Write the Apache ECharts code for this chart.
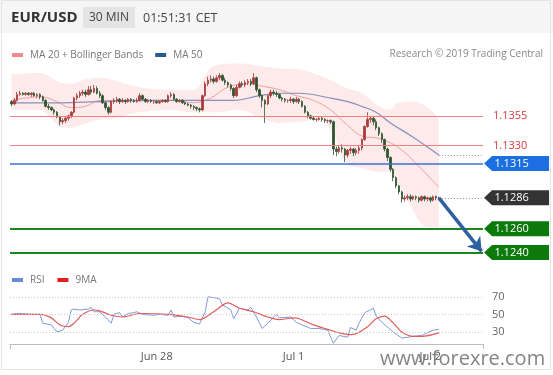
<!DOCTYPE html>
<html><head><meta charset="utf-8">
<script src="https://cdn.jsdelivr.net/npm/echarts@6/dist/echarts.min.js"></script>
<style>html,body{margin:0;padding:0;background:#fff}#c{width:553px;height:375px}</style>
</head><body><div id="c"></div>
<script>
// ---------- DATA ----------
// candles: [open, close, low, high], 30-minute bars from Jun 26 22:30 CET
const ohlc = [
[1.1367,1.1365,1.1363,1.1368],[1.1365,1.1368,1.1364,1.1370],[1.1368,1.1373,1.1367,1.1375],[1.1373,1.1374,1.1372,1.1376],
[1.1374,1.1373,1.1372,1.1375],[1.1373,1.1374,1.1372,1.1375],[1.1374,1.1373,1.1372,1.1375],[1.1373,1.1374,1.1371,1.1375],
[1.1374,1.1372,1.1371,1.1375],[1.1372,1.1373,1.1370,1.1374],[1.1373,1.1371,1.1369,1.1374],[1.1371,1.1368,1.1367,1.1372],
[1.1368,1.1363,1.1362,1.1369],[1.1363,1.1362,1.1360,1.1365],[1.1362,1.1360,1.1359,1.1363],[1.1360,1.1358,1.1356,1.1361],
[1.1358,1.1354,1.1353,1.1359],[1.1354,1.1350,1.1347,1.1355],[1.1350,1.1351,1.1348,1.1353],[1.1351,1.1353,1.1349,1.1354],
[1.1353,1.1355,1.1351,1.1356],[1.1355,1.1358,1.1353,1.1359],[1.1358,1.1370,1.1357,1.1371],[1.1370,1.1372,1.1368,1.1374],
[1.1372,1.1374,1.1370,1.1376],[1.1374,1.1375,1.1372,1.1377],[1.1375,1.1373,1.1371,1.1377],[1.1373,1.1377,1.1372,1.1380],
[1.1377,1.1375,1.1373,1.1380],[1.1375,1.1378,1.1374,1.1381],[1.1378,1.1374,1.1373,1.1380],[1.1374,1.1372,1.1370,1.1376],
[1.1372,1.1366,1.1365,1.1373],[1.1366,1.1362,1.1360,1.1367],[1.1362,1.1358,1.1356,1.1363],[1.1358,1.1367,1.1357,1.1368],
[1.1367,1.1368,1.1365,1.1370],[1.1368,1.1369,1.1366,1.1371],[1.1369,1.1367,1.1365,1.1370],[1.1367,1.1368,1.1366,1.1370],
[1.1368,1.1367,1.1365,1.1369],[1.1367,1.1369,1.1366,1.1370],[1.1369,1.1368,1.1366,1.1370],[1.1368,1.1367,1.1366,1.1369],
[1.1367,1.1368,1.1366,1.1370],[1.1368,1.1372,1.1367,1.1374],[1.1372,1.1369,1.1368,1.1373],[1.1369,1.1367,1.1366,1.1370],
[1.1367,1.1368,1.1366,1.1369],[1.1368,1.1367,1.1366,1.1369],[1.1367,1.1367,1.1365,1.1368],[1.1367,1.1366,1.1365,1.1368],
[1.1366,1.1367,1.1365,1.1368],[1.1367,1.1368,1.1366,1.1369],[1.1368,1.1367,1.1366,1.1369],[1.1367,1.1372,1.1366,1.1373],
[1.1372,1.1373,1.1370,1.1375],[1.1373,1.1369,1.1368,1.1374],[1.1369,1.1367,1.1366,1.1370],[1.1367,1.1368,1.1366,1.1369],
[1.1368,1.1366,1.1365,1.1369],[1.1366,1.1365,1.1364,1.1367],[1.1365,1.1364,1.1363,1.1366],[1.1364,1.1363,1.1361,1.1365],
[1.1363,1.1362,1.1360,1.1364],[1.1362,1.1361,1.1359,1.1363],[1.1361,1.1360,1.1358,1.1362],[1.1360,1.1372,1.1359,1.1373],
[1.1372,1.1382,1.1371,1.1384],[1.1382,1.1385,1.1380,1.1388],[1.1385,1.1386,1.1383,1.1389],[1.1386,1.1384,1.1382,1.1388],
[1.1384,1.1387,1.1383,1.1389],[1.1387,1.1389,1.1385,1.1391],[1.1389,1.1385,1.1384,1.1390],[1.1385,1.1383,1.1381,1.1387],
[1.1383,1.1381,1.1379,1.1384],[1.1381,1.1378,1.1376,1.1382],[1.1378,1.1372,1.1370,1.1379],[1.1372,1.1379,1.1371,1.1381],
[1.1379,1.1382,1.1378,1.1384],[1.1382,1.1381,1.1379,1.1384],[1.1381,1.1383,1.1379,1.1385],[1.1383,1.1384,1.1381,1.1386],
[1.1384,1.1382,1.1380,1.1386],[1.1382,1.1387,1.1381,1.1391],[1.1387,1.1377,1.1375,1.1388],[1.1377,1.1372,1.1370,1.1378],
[1.1372,1.1368,1.1362,1.1373],[1.1368,1.1365,1.1349,1.1369],[1.1365,1.1372,1.1364,1.1373],[1.1372,1.1375,1.1370,1.1377],
[1.1375,1.1374,1.1372,1.1377],[1.1374,1.1373,1.1371,1.1376],[1.1373,1.1370,1.1369,1.1374],[1.1370,1.1369,1.1367,1.1371],
[1.1369,1.1368,1.1366,1.1370],[1.1368,1.1368,1.1366,1.1369],[1.1368,1.1369,1.1366,1.1371],[1.1369,1.1367,1.1365,1.1370],
[1.1367,1.1369,1.1366,1.1371],[1.1369,1.1367,1.1365,1.1370],[1.1367,1.1363,1.1362,1.1368],[1.1363,1.1358,1.1357,1.1364],
[1.1358,1.1355,1.1353,1.1359],[1.1355,1.1353,1.1352,1.1356],[1.1353,1.1352,1.1351,1.1354],[1.1352,1.1352,1.1350,1.1353],
[1.1352,1.1353,1.1351,1.1354],[1.1353,1.1352,1.1350,1.1354],[1.1352,1.1351,1.1349,1.1353],[1.1351,1.1351,1.1349,1.1352],
[1.1351,1.1350,1.1348,1.1352],[1.1350,1.1327,1.1322,1.1351],[1.1327,1.1325,1.1321,1.1329],[1.1325,1.1328,1.1323,1.1330],
[1.1328,1.1327,1.1324,1.1331],[1.1327,1.1322,1.1316,1.1328],[1.1322,1.1326,1.1320,1.1327],[1.1326,1.1327,1.1323,1.1329],
[1.1327,1.1324,1.1321,1.1328],[1.1324,1.1326,1.1322,1.1328],[1.1326,1.1328,1.1323,1.1330],[1.1328,1.1335,1.1326,1.1336],
[1.1335,1.1346,1.1334,1.1347],[1.1346,1.1352,1.1345,1.1358],[1.1352,1.1353,1.1349,1.1355],[1.1353,1.1350,1.1347,1.1355],
[1.1350,1.1345,1.1343,1.1352],[1.1345,1.1340,1.1338,1.1346],[1.1340,1.1335,1.1332,1.1341],[1.1335,1.1327,1.1325,1.1336],
[1.1327,1.1320,1.1317,1.1328],[1.1320,1.1310,1.1308,1.1321],[1.1310,1.1303,1.1300,1.1311],[1.1303,1.1296,1.1294,1.1304],
[1.1296,1.1291,1.1289,1.1297],[1.1291,1.1285,1.1282,1.1292],[1.1285,1.1286,1.1283,1.1288],[1.1286,1.1287,1.1284,1.1289],
[1.1287,1.1285,1.1283,1.1289],[1.1285,1.1287,1.1284,1.1288],[1.1287,1.1286,1.1284,1.1288],[1.1286,1.1284,1.1282,1.1287],
[1.1284,1.1287,1.1283,1.1288],[1.1287,1.1285,1.1283,1.1288],[1.1285,1.1286,1.1283,1.1287],[1.1286,1.1284,1.1282,1.1287],
[1.1284,1.1287,1.1283,1.1288],[1.1287,1.1286,1.1284,1.1288],[1.1286,1.1286,1.1284,1.1287]
];
// moving averages, [bar index, value]
const ma20 = [[0,1.1368],[10,1.1371],[15,1.1368],[21,1.1362],[26,1.1363],[31,1.1368],[36,1.1368],[42,1.1368],[49,1.1368],[57,1.1368],[64,1.1366],[70,1.1370],[75,1.1378],[82,1.1382],[88,1.1380],[94,1.1377],[100,1.1372],[106,1.1368],[112,1.1360],[118,1.1347],[123,1.1338],[129,1.1336],[136,1.1328],[144,1.1310],[150,1.1295]];
const ma50 = [[0,1.1366],[17,1.1366],[31,1.1367],[49,1.1368],[66,1.1368],[78,1.1368],[87,1.1372],[94,1.1374],[101,1.1374],[112,1.1370],[118,1.1367],[123,1.1363],[128,1.1358],[133,1.1349],[141,1.1337],[150,1.1322]];
// Bollinger bands
const bandIdx   = [0,10,14,17,21,25,31,36,45,56,64,68,71,80,87,94,101,108,113,118,123,129,133,135,140,144,147,150];
const bandUpper = [1.1390,1.1391,1.1387,1.1383,1.1382,1.1385,1.1387,1.1385,1.1379,1.1377,1.1377,1.1389,1.1397,1.1399,1.1397,1.1395,1.1394,1.1389,1.1384,1.1378,1.1374,1.1363,1.1360,1.1365,1.1367,1.1365,1.1360,1.1353];
const bandLower = [1.1360,1.1360,1.1353,1.1346,1.1345,1.1348,1.1352,1.1353,1.1358,1.1360,1.1358,1.1358,1.1358,1.1360,1.1354,1.1349,1.1350,1.1352,1.1339,1.1314,1.1311,1.1308,1.1308,1.1301,1.1280,1.1264,1.1261,1.1261];
// RSI panel, [bar index, value]
const rsi = [[0,50],[2,51],[7,50],[10,50],[11,40],[14,38],[15,34],[16,30],[18,32],[20,41],[21,55],[22,56],[24,55],[27,56],[28,58],[29,53],[31,53],[33,47],[35,40],[36,50],[38,52],[39,47],[41,51],[43,52],[44,53],[46,50],[50,49],[52,50],[55,49],[56,55],[57,47],[60,48],[62,46],[64,41],[66,39],[68,53],[69,70],[71,69],[73,68],[74,61],[77,55],[78,45],[80,57],[83,55],[84,58],[86,47],[88,34],[90,40],[93,50],[94,46],[98,47],[100,41],[102,38],[105,34],[108,34],[111,32],[113,17],[115,26],[118,24],[119,35],[121,32],[122,40],[124,52],[126,55],[127,57],[128,48],[130,41],[134,30],[137,23],[139,24],[141,25],[144,26],[148,32],[150,33]];
const rsiMA9 = [[0,50],[10,50],[14,46],[17,38],[20,36],[22,40],[25,50],[29,55],[31,54],[35,49],[39,47],[45,51],[55,50],[62,47],[66,44],[71,53],[76,63],[80,57],[85,53],[90,47],[94,44],[99,46],[101,45],[106,38],[111,33],[115,29],[119,27],[121,28],[125,36],[128,45],[131,48],[134,40],[137,30],[141,25],[144,25],[150,29]];
const rsiLevels = [70, 50, 30];
// price levels
const redLevels = [1.1355, 1.1330];
const blueLevel = 1.1315;
const lastPrice = 1.1286;
const greenLevels = [1.1260, 1.1240];
const ma50Last = 1.1322;
const arrowTarget = 1.1241;
// x-axis tick labels
const tickCats = ['06-28 00:00', '07-01 00:00', '07-02 00:00'];
const tickText = ['Jun 28', 'Jul 1', 'Jul 2'];

// ---------- categories (30-min slots, weekend skipped) ----------
const totalSlots = ohlc.length + 15;
const cats = [];
{
  let t = Date.UTC(2019, 5, 26, 22, 30);
  while (cats.length < totalSlots) {
    const d = new Date(t);
    const wd = d.getUTCDay(), h = d.getUTCHours();
    const closed = wd === 6 || (wd === 5 && h >= 23) || (wd === 0 && h < 23);
    if (!closed) {
      const p = n => String(n).padStart(2, '0');
      cats.push(p(d.getUTCMonth() + 1) + '-' + p(d.getUTCDate()) + ' ' + p(h) + ':' + p(d.getUTCMinutes()));
    }
    t += 30 * 60000;
  }
}
const lastIdx = ohlc.length - 1;
const endIdx = cats.length - 1;

const F = "'Open Sans', 'DejaVu Sans', sans-serif";
const chart = echarts.init(document.getElementById('c'), null, {renderer: 'canvas'});

const boxPath = 'path://M0,8L8,0L65,0L65,16L8,16Z';
function box(val, color) {
  return {
    coord: [endIdx, val], symbol: boxPath, symbolSize: [65, 15], symbolOffset: [35, 0],
    itemStyle: {color: color},
    label: {show: true, position: 'inside', formatter: val.toFixed(4), color: '#fff', fontSize: 11, fontFamily: F, offset: [-5, 0]}
  };
}

const option = {
  animation: false,
  backgroundColor: '#fff',
  grid: [
    {left: 10, right: 70, top: 60, height: 202},
    {left: 10, right: 70, top: 288, height: 56}
  ],
  xAxis: [
    {type: 'category', gridIndex: 0, data: cats, show: false, boundaryGap: true},
    {type: 'category', gridIndex: 1, data: cats, boundaryGap: true,
     axisLine: {lineStyle: {color: '#bdbdbd', width: 1}},
     axisTick: {show: true, interval: (i) => i === 0, length: 5, lineStyle: {color: '#bdbdbd'}},
     axisLabel: {interval: (i, v) => tickCats.indexOf(v) >= 0,
       formatter: (v) => { const k = tickCats.indexOf(v); return k >= 0 ? tickText[k] : ''; },
       color: '#555', fontSize: 11, fontFamily: F, margin: 7}}
  ],
  yAxis: [
    {type: 'value', gridIndex: 0, min: 1.1232, max: 1.1402, show: false, splitLine: {show: false}},
    {type: 'value', gridIndex: 1, min: 16.3, max: 80, show: false, splitLine: {show: false}}
  ],
  legend: [
    {left: 12, top: 50, padding: 0, icon: 'rect', itemWidth: 11, itemHeight: 4, itemGap: 12, selectedMode: false,
     textStyle: {color: '#777', fontSize: 10, fontFamily: F, padding: [0, 0, 0, 2]},
     data: [{name: 'MA 20 + Bollinger Bands', itemStyle: {color: '#f08a8a'}}, {name: 'MA 50', itemStyle: {color: '#2b5797'}}]},
    {left: 12, top: 275, padding: 0, icon: 'rect', itemWidth: 11, itemHeight: 4, itemGap: 13, selectedMode: false,
     textStyle: {color: '#777', fontSize: 10, fontFamily: F, padding: [0, 0, 0, 2]},
     data: [{name: 'RSI', itemStyle: {color: '#6a8ad4'}}, {name: '9MA', itemStyle: {color: '#e02020'}}]}
  ],
  series: [
    {name: 'bandLow', type: 'line', xAxisIndex: 0, yAxisIndex: 0, stack: 'bb', smooth: 0.4, symbol: 'none',
     lineStyle: {opacity: 0}, data: bandIdx.map((x, k) => [x, bandLower[k]]), silent: true, z: 1},
    {name: 'bandFill', type: 'line', xAxisIndex: 0, yAxisIndex: 0, stack: 'bb', smooth: 0.4, symbol: 'none',
     lineStyle: {opacity: 0}, areaStyle: {color: 'rgba(240,120,120,0.22)'},
     data: bandIdx.map((x, k) => [x, bandUpper[k] - bandLower[k]]), silent: true, z: 1},
    {name: 'MA 20 + Bollinger Bands', type: 'line', xAxisIndex: 0, yAxisIndex: 0, smooth: 0.4, symbol: 'none',
     lineStyle: {color: '#f2a0a0', width: 1}, itemStyle: {color: '#f08a8a'}, data: ma20, z: 2},
    {name: 'MA 50', type: 'line', xAxisIndex: 0, yAxisIndex: 0, smooth: 0.4, symbol: 'none',
     lineStyle: {color: '#8790bd', width: 1.2}, itemStyle: {color: '#2b5797'}, data: ma50, z: 3,
     markLine: {silent: true, symbol: 'none', animation: false, precision: 6,
       data: [
         ...redLevels.map(v => ({yAxis: v, lineStyle: {color: '#f08080', width: 1.2, type: 'solid'},
            label: {show: true, position: 'end', distance: 10, formatter: v.toFixed(4), color: '#d8383a', fontSize: 11, fontFamily: F}})),
         {yAxis: blueLevel, lineStyle: {color: '#3d6fd6', width: 1.5, type: 'solid'}, label: {show: false}},
         ...greenLevels.map(v => ({yAxis: v, lineStyle: {color: '#1d861d', width: 2, type: 'solid'}, label: {show: false}}))
       ]}},
    {name: 'price', type: 'candlestick', xAxisIndex: 0, yAxisIndex: 0, barWidth: 2, z: 4,
     itemStyle: {color: '#a83a3a', color0: '#2f5530', borderColor: '#a83a3a', borderColor0: '#2f5530', borderWidth: 0.8},
     data: ohlc},
    {name: 'ext', type: 'line', xAxisIndex: 0, yAxisIndex: 0, data: [], z: 5,
     markLine: {silent: true, symbol: 'none', animation: false, precision: 6, label: {show: false},
       lineStyle: {color: '#888', width: 1, type: [1, 2]},
       data: [
         [{coord: [lastIdx, ma50Last]}, {coord: [endIdx, ma50Last]}],
         [{coord: [lastIdx, lastPrice]}, {coord: [endIdx, lastPrice]}]
       ]},
     markPoint: {silent: true, animation: false,
       data: [box(blueLevel, '#1c6fe0'), box(lastPrice, '#333333'), box(greenLevels[0], '#0b7a0b'), box(greenLevels[1], '#0b7a0b')]}},
    {name: 'arrow', type: 'line', xAxisIndex: 0, yAxisIndex: 0, data: [], z: 6,
     markLine: {silent: true, animation: false, precision: 6, symbol: ['none', 'arrow'], symbolSize: 13, label: {show: false},
       lineStyle: {color: '#2e5f9e', width: 3.5, type: 'solid'},
       data: [[{coord: [lastIdx, lastPrice]}, {coord: [endIdx, arrowTarget]}]]}},
    {name: 'RSI', type: 'line', xAxisIndex: 1, yAxisIndex: 1, symbol: 'none', data: rsi,
     lineStyle: {color: '#7f99dc', width: 1}, itemStyle: {color: '#6a8ad4'}, z: 3,
     markLine: {silent: true, symbol: 'none', animation: false,
       lineStyle: {color: '#c9c9c9', width: 1, type: [1, 2]},
       label: {show: true, position: 'end', distance: 9, color: '#666', fontSize: 11, fontFamily: F, formatter: p => String(p.value)},
       data: rsiLevels.map(v => ({yAxis: v}))}},
    {name: '9MA', type: 'line', xAxisIndex: 1, yAxisIndex: 1, symbol: 'none', smooth: 0.3, data: rsiMA9,
     lineStyle: {color: '#e25c5c', width: 1.2}, itemStyle: {color: '#e02020'}, z: 4}
  ],
  graphic: [
    {type: 'rect', left: 0, top: 0, shape: {width: 553, height: 33}, style: {fill: '#f5f5f5'}, z: -10, silent: true},
    {type: 'rect', shape: {x: 1.5, y: 0.5, width: 549, height: 369}, style: {fill: 'none', stroke: '#e4e4e4', lineWidth: 1}, z: -9, silent: true},
    {type: 'text', x: 11, y: 18, style: {text: 'EUR/USD', font: "bold 15px 'Open Sans', sans-serif", fill: '#333', verticalAlign: 'middle'}, silent: true},
    {type: 'rect', shape: {x: 83, y: 7, width: 52, height: 21}, style: {fill: '#e4e4e4'}, silent: true},
    {type: 'text', x: 109, y: 18, style: {text: '30 MIN', font: "12px 'Open Sans', sans-serif", fill: '#444', align: 'center', verticalAlign: 'middle'}, silent: true},
    {type: 'text', x: 143, y: 18, style: {text: '01:51:31 CET', font: "12.5px 'Open Sans', sans-serif", fill: '#444', verticalAlign: 'middle'}, silent: true},
    {type: 'text', x: 543, y: 54, style: {text: 'Research \u00a9 2019 Trading Central', font: "10px 'Open Sans', sans-serif", fill: '#888', align: 'right', verticalAlign: 'middle'}, silent: true},
    {type: 'text', x: 380, y: 359, z: 100, style: {text: 'www.forexre.com', font: "20px 'Open Sans', sans-serif", fill: 'rgba(110,110,110,0.85)', verticalAlign: 'middle'}, silent: true}
  ]
};
chart.setOption(option);
</script>
</body></html>
